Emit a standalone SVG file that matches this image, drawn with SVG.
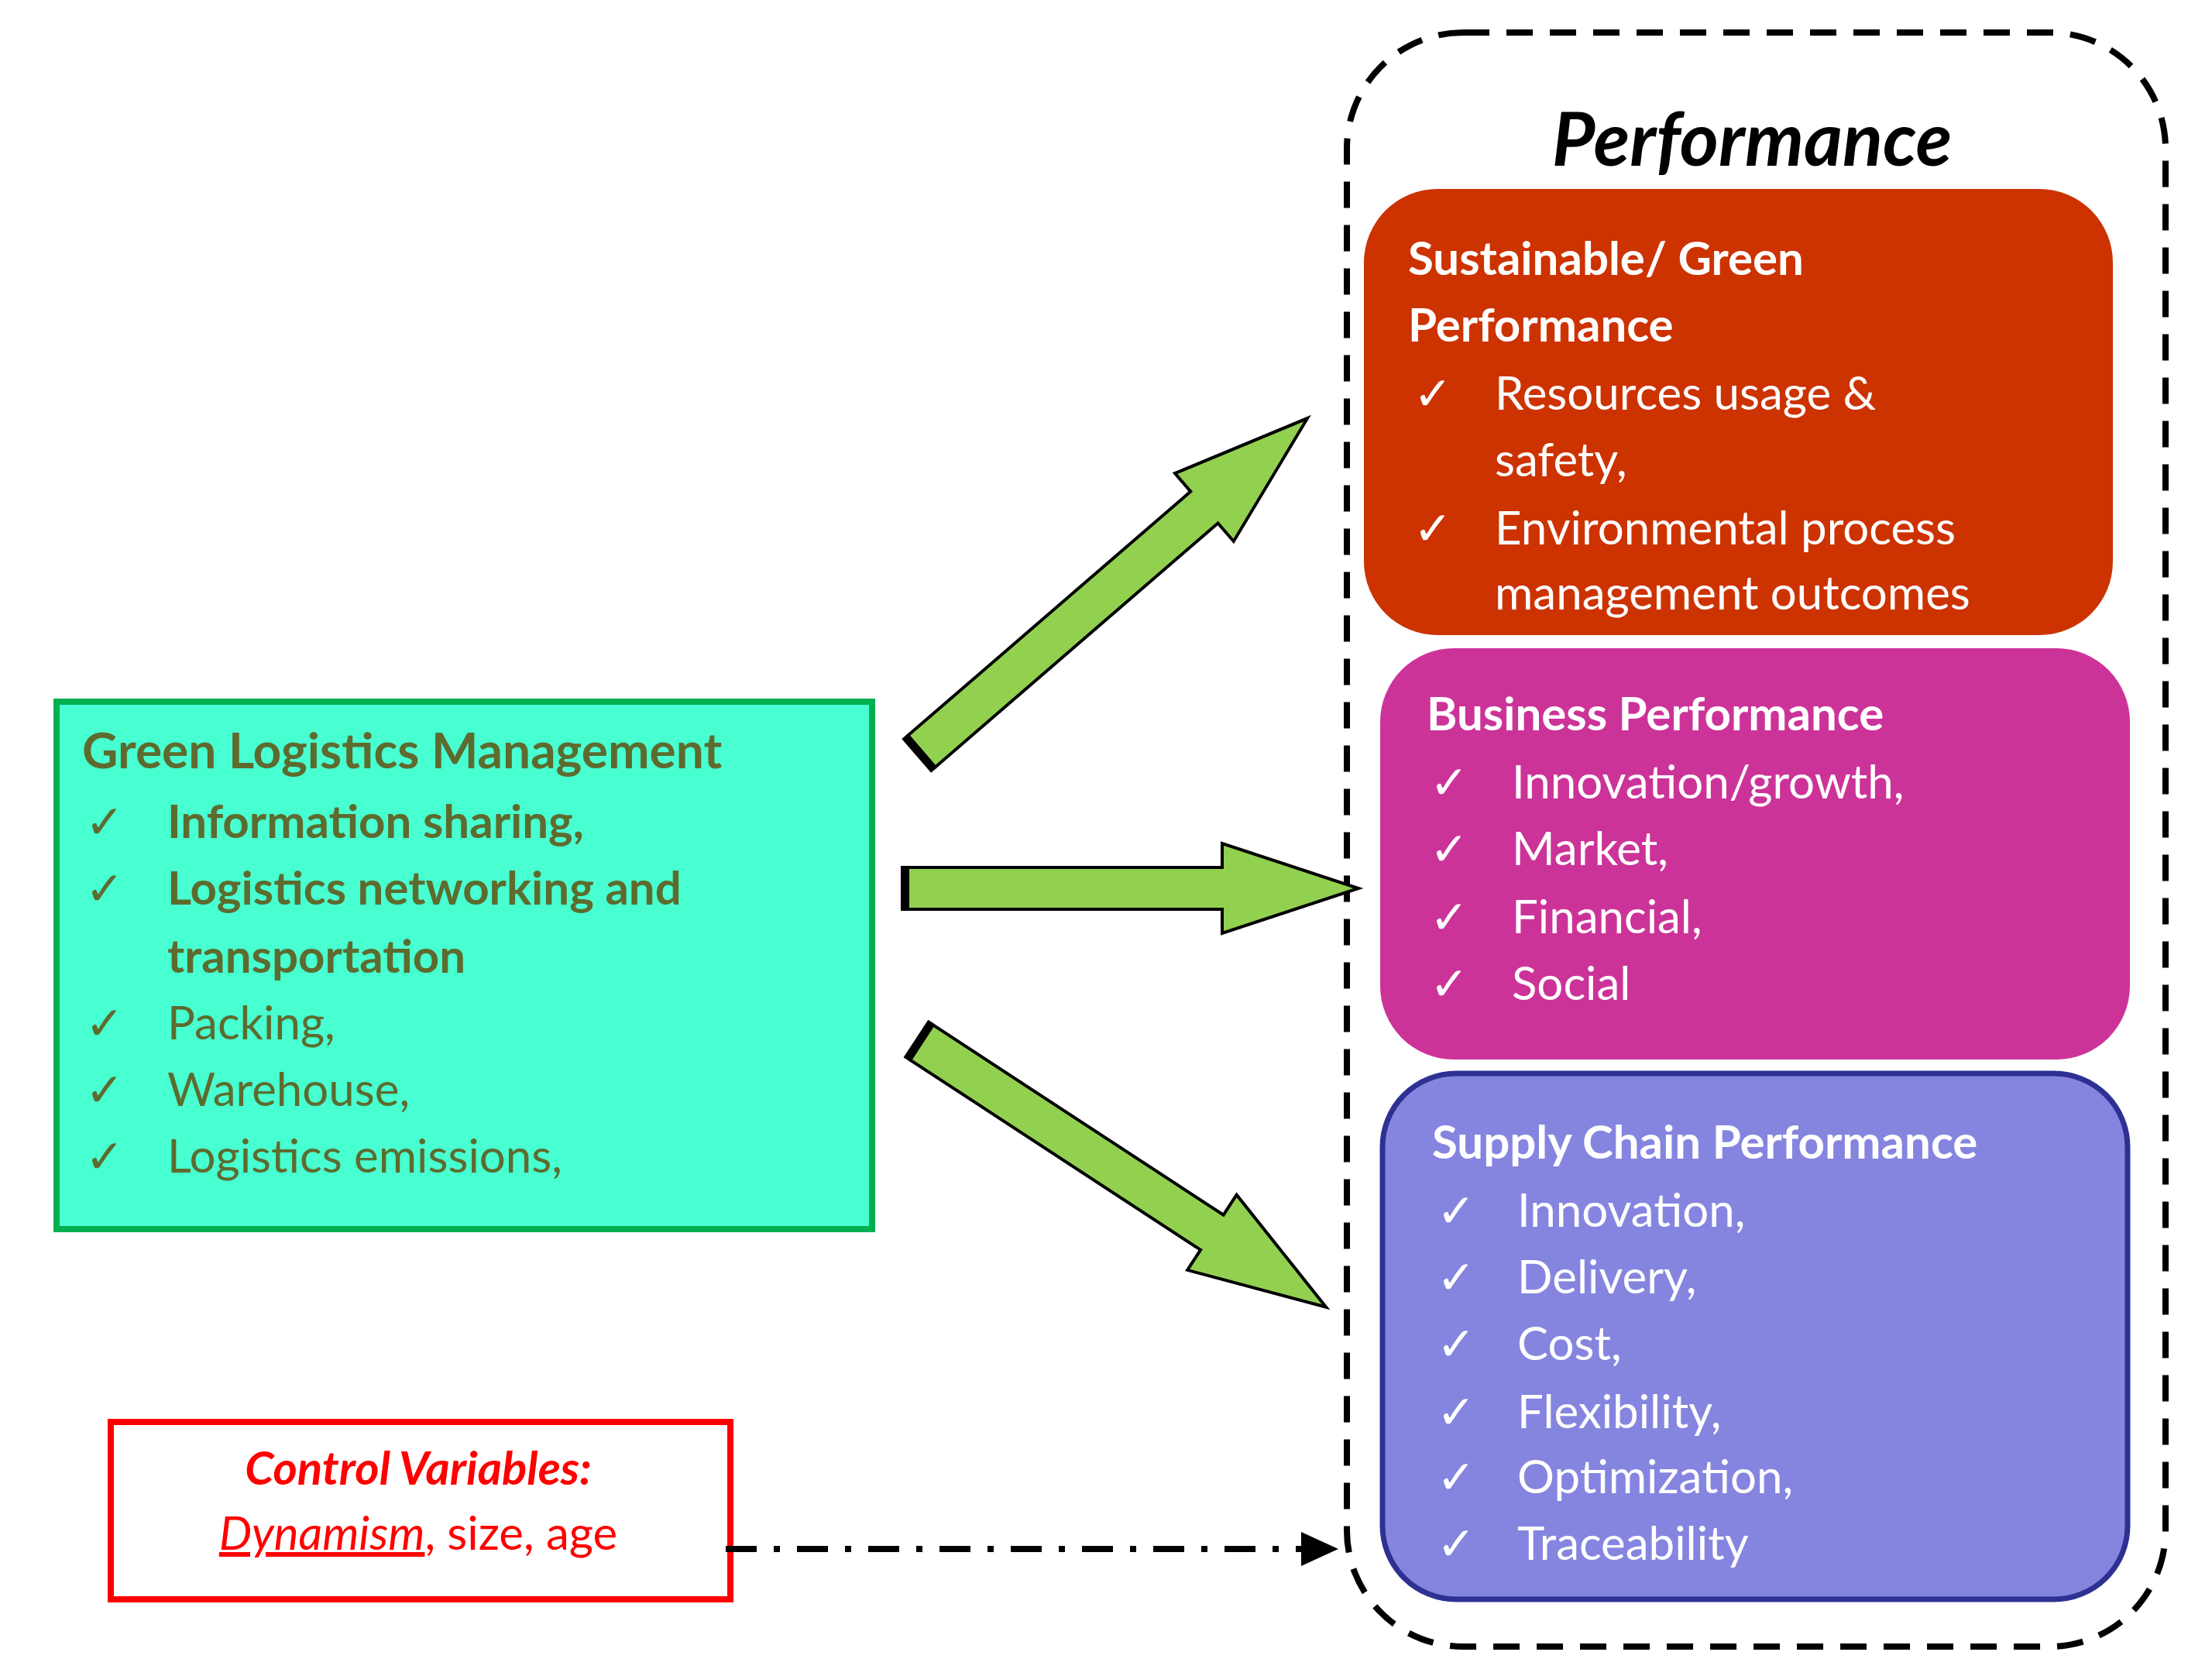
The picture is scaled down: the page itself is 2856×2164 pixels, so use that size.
<svg xmlns="http://www.w3.org/2000/svg" width="2856" height="2164" viewBox="0 0 2856 2164">
<style>
text{font-family:Lato,"Open Sans","Liberation Sans",sans-serif}
.g{fill:#5E6B2E;font-size:60px}
.gb{fill:#5E6B2E;font-size:60px;font-weight:bold}
.w{fill:#fff;font-size:60px}
.wb{fill:#fff;font-size:60px;font-weight:bold}
.arr{fill:#92D050;stroke:#000;stroke-width:4}
</style>
<rect width="2856" height="2164" fill="#fff"/>
<g id="performance">
<rect x="1739" y="42" width="1057" height="2084" rx="150" fill="none" stroke="#000" stroke-width="8" stroke-dasharray="34,22"/>
<text x="2262" y="214" font-size="96" font-weight="bold" font-style="italic" text-anchor="middle" fill="#000">Performance</text>
</g>
<g id="sustainable">
<rect x="1761" y="244" width="967" height="576" rx="95" fill="#CC3300"/>
<text class="wb" x="1818" y="355">Sustainable/ Green</text>
<text class="wb" x="1818" y="441">Performance</text>
<text class="w" x="1825" y="529">✓</text><text class="w" x="1930" y="529">Resources usage &amp;</text>
<text class="w" x="1930" y="615">safety,</text>
<text class="w" x="1825" y="703">✓</text><text class="w" x="1930" y="703">Environmental process</text>
<text class="w" x="1930" y="787">management outcomes</text>
</g>
<g id="business">
<rect x="1782" y="837" width="968" height="531" rx="95" fill="#CC3399"/>
<text class="wb" x="1842" y="943">Business Performance</text>
<text class="w" x="1846" y="1031">✓</text><text class="w" x="1952" y="1031">Innovation/growth,</text>
<text class="w" x="1846" y="1117">✓</text><text class="w" x="1952" y="1117">Market,</text>
<text class="w" x="1846" y="1205">✓</text><text class="w" x="1952" y="1205">Financial,</text>
<text class="w" x="1846" y="1291">✓</text><text class="w" x="1952" y="1291">Social</text>
</g>
<g id="supply">
<rect x="1785" y="1386" width="962" height="679" rx="95" fill="#8585E0" stroke="#2E3192" stroke-width="7"/>
<text class="wb" x="1849" y="1496">Supply Chain Performance</text>
<text class="w" x="1855" y="1584">✓</text><text class="w" x="1959" y="1584">Innovation,</text>
<text class="w" x="1855" y="1670">✓</text><text class="w" x="1959" y="1670">Delivery,</text>
<text class="w" x="1855" y="1756">✓</text><text class="w" x="1959" y="1756">Cost,</text>
<text class="w" x="1855" y="1844">✓</text><text class="w" x="1959" y="1844">Flexibility,</text>
<text class="w" x="1855" y="1928">✓</text><text class="w" x="1959" y="1928">Optimization,</text>
<text class="w" x="1855" y="2014">✓</text><text class="w" x="1959" y="2014">Traceability</text>
</g>
<g id="glm">
<rect x="73" y="906" width="1053" height="681" fill="#47FFD1" stroke="#00B050" stroke-width="8"/>
<text x="106" y="992" fill="#5E6B2E" font-size="64" font-weight="bold">Green Logistics Management</text>
<text class="g" x="110" y="1082">✓</text><text class="gb" x="216" y="1082">Information sharing,</text>
<text class="g" x="110" y="1168">✓</text><text class="gb" x="216" y="1168">Logistics networking and</text>
<text class="gb" x="216" y="1256">transportation</text>
<text class="g" x="110" y="1342">✓</text><text class="g" x="216" y="1342">Packing,</text>
<text class="g" x="110" y="1428">✓</text><text class="g" x="216" y="1428">Warehouse,</text>
<text class="g" x="110" y="1514">✓</text><text class="g" x="216" y="1514">Logistics emissions,</text>
</g>
<g id="control">
<rect x="143" y="1836" width="800" height="229" fill="#fff" stroke="#FF0000" stroke-width="8"/>
<text x="540" y="1917" font-size="60" font-weight="bold" font-style="italic" fill="#FF0000" text-anchor="middle">Control Variables:</text>
<text x="540" y="2001" font-size="60" fill="#FF0000" text-anchor="middle"><tspan font-style="italic" text-decoration="underline">Dynamism</tspan>, size, age</text>
</g>
<g id="connectors">
<g transform="translate(1190,970) rotate(-40.8)">
<polygon class="arr" points="0,-27 482,-27 482,-58 658,0 482,58 482,27 0,27"/>
<line x1="-4" y1="-29" x2="-4" y2="29" stroke="#000" stroke-width="10"/>
</g>
<g transform="translate(1172,1147)">
<polygon class="arr" points="0,-27 406,-27 406,-58 582,0 406,58 406,27 0,27"/>
<line x1="-4" y1="-29" x2="-4" y2="29" stroke="#000" stroke-width="10"/>
</g>
<g transform="translate(1190,1346) rotate(33.2)">
<polygon class="arr" points="0,-27 448,-27 448,-58 624,0 448,58 448,27 0,27"/>
<line x1="-4" y1="-29" x2="-4" y2="29" stroke="#000" stroke-width="10"/>
</g>
<line x1="937" y1="2000" x2="1685" y2="2000" stroke="#000" stroke-width="8" stroke-dasharray="40,22,8,22"/>
<polygon points="1680,1978 1728,2000 1680,2022" fill="#000"/>
</g>
</svg>
